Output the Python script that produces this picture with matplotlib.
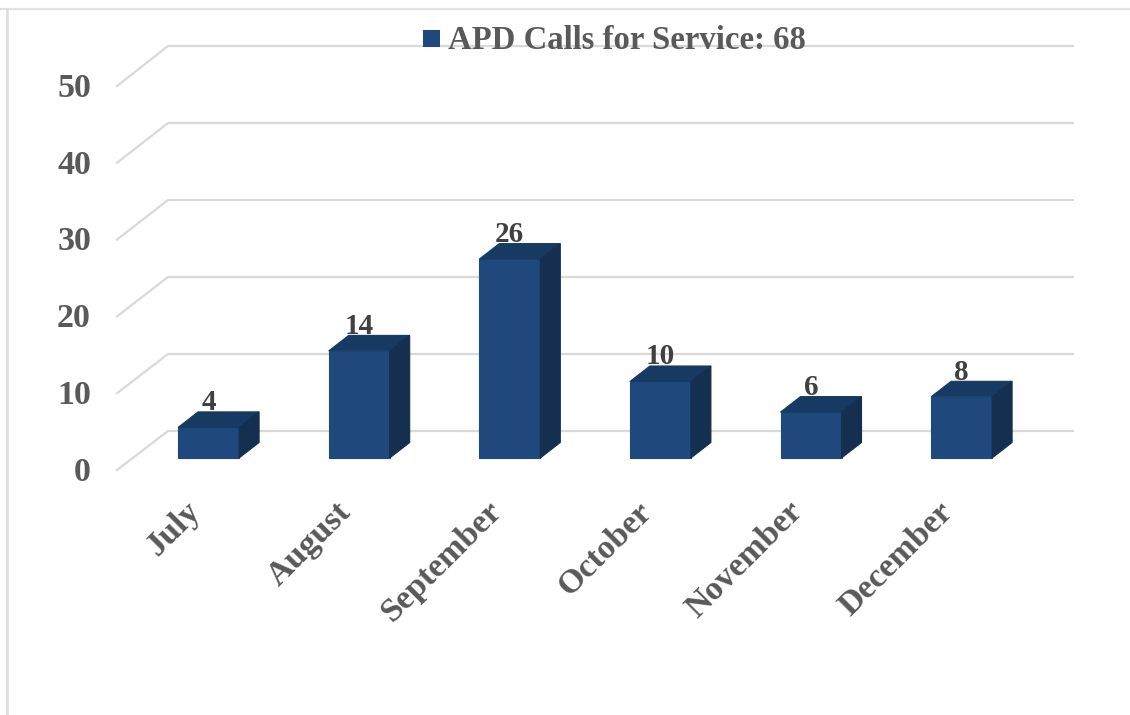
import matplotlib
matplotlib.use("Agg")
import matplotlib.pyplot as plt
from matplotlib.patches import Polygon, Rectangle
from matplotlib.lines import Line2D

months = ["July", "August", "September", "October", "November", "December"]
calls = [4, 14, 26, 10, 6, 8]
y_ticks = [0, 10, 20, 30, 40, 50]
legend_text = "APD Calls for Service: 68"

W, H = 1130, 715
FONT = "Liberation Serif"
GREY = "#595959"
GRID = "#d9d9d9"
FRONT, TOP, SIDE = "#1f497d", "#173a63", "#142f50"

X0, DX = 208.6, 150.6      # pixel of first category, pixels per category
Y0, DY = 458.0, 7.65       # pixel of value zero, pixels per unit
BAR_W = 61 / DX
DEPTH_X, DEPTH_Y = 20 / DX, 15.5 / DY

fig = plt.figure(figsize=(W / 100, H / 100), dpi=100, facecolor="white")
ax = fig.add_axes([0, 0, 1, 1])
ax.set_xlim((0 - X0) / DX, (W - X0) / DX)
ax.set_ylim((Y0 - H) / DY, Y0 / DY)
ax.axis("off")

# outer chart frame
fig.add_artist(Line2D([0, 1], [1 - 9 / H, 1 - 9 / H], color="#e2e2e2", lw=1.6))
fig.add_artist(Line2D([7 / W, 7 / W], [0, 1 - 9 / H], color="#dcdcdc", lw=1.8))

# 3-D walls: back wall lines and left floor/side diagonals
wall_left = (168 - X0) / DX
wall_right = (1073 - X0) / DX
front_left = (117 - X0) / DX
for v in y_ticks:
    back = (27 + 7.7 * v) / DY
    front = (-12 + 7.68 * v) / DY
    ax.plot([front_left, wall_left, wall_right], [front, back, back],
            color=GRID, lw=1.6, solid_joinstyle="miter", zorder=1)
    ax.text((91 - X0) / DX, front - 0.3, str(v), ha="right", va="center",
            fontsize=24.5, fontweight="bold", family=FONT, color=GREY, zorder=3)

# bars
for i, (m, v) in enumerate(zip(months, calls)):
    l, r = i - BAR_W / 2, i + BAR_W / 2
    ax.add_patch(Polygon([(l, 0), (r, 0), (r, v), (l, v)], fc=FRONT, ec=FRONT, lw=0.8, zorder=4))
    ax.add_patch(Polygon([(l, v), (r, v), (r + DEPTH_X, v + DEPTH_Y), (l + DEPTH_X, v + DEPTH_Y)],
                         fc=TOP, ec=TOP, lw=0.8, zorder=4))
    ax.add_patch(Polygon([(r, 0), (r + DEPTH_X, DEPTH_Y), (r + DEPTH_X, v + DEPTH_Y), (r, v)],
                         fc=SIDE, ec=SIDE, lw=0.8, zorder=4))
    ax.text(i, v + 17 / DY, str(v), ha="center", va="baseline", fontsize=21,
            fontweight="bold", family=FONT, color="#404040", zorder=5)
    ax.text(i - 24 / DX, -38 / DY, m, rotation=45, rotation_mode="anchor", ha="right", va="top",
            fontsize=24.5, fontweight="bold", family=FONT, color=GREY, zorder=5)

# legend
ax.add_patch(Rectangle(((423 - X0) / DX, (Y0 - 47) / DY), 17 / DX, 17 / DY, fc=FRONT, ec="none", zorder=6))
ax.text((448 - X0) / DX, (Y0 - 49) / DY, legend_text, ha="left", va="baseline", fontsize=23.6,
        fontweight="bold", family=FONT, color=GREY, zorder=6)

fig.savefig("out.png", dpi=100, facecolor="white")
